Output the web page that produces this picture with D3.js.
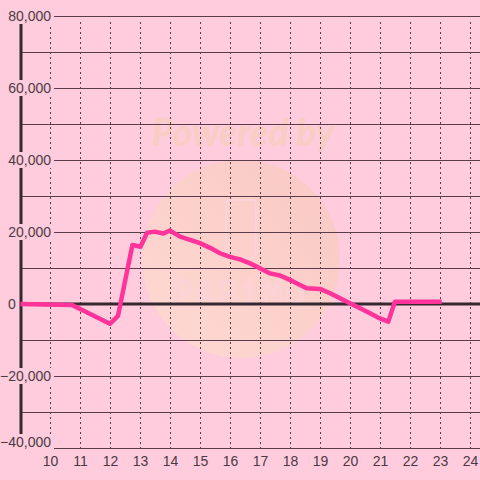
<!DOCTYPE html>
<html><head><meta charset="utf-8">
<script src="https://cdn.jsdelivr.net/npm/d3@7"></script>
<style>html,body{margin:0;padding:0;background:#ffccdd;}svg{display:block;}</style>
</head><body>
<svg id="c" width="480" height="480"></svg>
<script>
const hours = [9.0, 10.72, 11.98, 12.25, 12.73, 13.0, 13.22, 13.48, 13.76, 13.98, 14.32, 14.65, 14.98, 15.32, 15.65, 15.98, 16.32, 16.65, 16.98, 17.32, 17.65, 17.98, 18.32, 18.54, 18.98, 19.32, 19.65, 19.98, 20.32, 20.65, 20.98, 21.26, 21.48, 23.04];
const values = [0, -300, -5500, -3300, 16400, 15900, 19800, 20100, 19600, 20400, 18700, 17800, 16900, 15600, 14100, 13100, 12400, 11300, 9900, 8500, 7900, 6700, 5300, 4400, 4200, 3000, 1600, 200, -1200, -2600, -4000, -4900, 650, 650];
const xTicks = [10, 11, 12, 13, 14, 15, 16, 17, 18, 19, 20, 21, 22, 23, 24];
const yGrid = [-40000, -30000, -20000, -10000, 0, 10000, 20000, 30000, 40000, 50000, 60000, 70000, 80000];
const yLabels = [-40000, -20000, 0, 20000, 40000, 60000, 80000];

const svg = d3.select("#c");
const x = d3.scaleLinear().domain([9, 24]).range([20.5, 470.5]);
const y = d3.scaleLinear().domain([-40000, 80000]).range([448, 16]);
const dark = "#5a3c4b", ink = "#33292e", txt = "#4a3a44";
const font = "Liberation Sans, Arial, sans-serif";

svg.append("rect").attr("width", 480).attr("height", 480).attr("fill", "#ffccdd");

// watermark
const defs = svg.append("defs");
const g = defs.append("linearGradient").attr("id", "wm").attr("x1", "0").attr("y1", "1").attr("x2", "1").attr("y2", "0");
g.append("stop").attr("offset", "0").attr("stop-color", "#ffd9d3");
g.append("stop").attr("offset", "1").attr("stop-color", "#f9c8c4");
svg.append("circle").attr("cx", 241).attr("cy", 259).attr("r", 99).attr("fill", "url(#wm)");
svg.append("text").attr("x", 243).attr("y", 146).attr("text-anchor", "middle")
  .attr("font-family", "Lato, 'Open Sans', sans-serif").attr("font-weight", 900).attr("font-style", "italic")
  .attr("font-size", 37).attr("fill", "#f9ccc4").text("Powered by");
svg.append("rect").attr("x", 226).attr("y", 200).attr("width", 30).attr("height", 58).attr("rx", 4)
  .attr("fill", "none").attr("stroke", "#fcd3da").attr("stroke-width", 2);
svg.append("text").attr("x", 240).attr("y", 305).attr("text-anchor", "middle")
  .attr("font-family", "DejaVu Sans Mono, monospace").attr("font-size", 34).attr("letter-spacing", 2)
  .attr("fill", "none").attr("stroke", "#fcd3da").attr("stroke-width", 1.5).text("PAPiMO");

// horizontal grid
svg.append("g").selectAll("line").data(yGrid.filter(v => v !== 0)).join("line")
  .attr("x1", d => yLabels.includes(d) ? 54 : 21).attr("x2", 480)
  .attr("y1", d => Math.round(y(d)) + 0.5).attr("y2", d => Math.round(y(d)) + 0.5)
  .attr("stroke", dark).attr("stroke-width", 1);

// vertical dotted grid
svg.append("g").selectAll("line").data(xTicks).join("line")
  .attr("x1", d => x(d)).attr("x2", d => x(d)).attr("y1", 22).attr("y2", 448)
  .attr("stroke", dark).attr("stroke-width", 1).attr("stroke-dasharray", "2,3");

// x axis baseline
svg.append("line").attr("x1", 54).attr("x2", 480).attr("y1", 448.5).attr("y2", 448.5).attr("stroke", dark);
// zero line
svg.append("line").attr("x1", 21).attr("x2", 480).attr("y1", y(0)).attr("y2", y(0)).attr("stroke", ink).attr("stroke-width", 3);
// y axis bar
svg.append("line").attr("x1", 21).attr("x2", 21).attr("y1", 16).attr("y2", 436).attr("stroke", ink).attr("stroke-width", 3);

// y labels with background
const nonZero = yLabels.filter(d => d !== 0);
const ly = d => d === -40000 ? y(d) - 6 : y(d);
const yl = svg.append("g");
yl.selectAll("rect").data(nonZero).join("rect")
  .attr("x", 0).attr("width", 53).attr("y", d => ly(d) - 8).attr("height", 16).attr("fill", "#ffccdd");
yl.selectAll("text").data(nonZero).join("text")
  .attr("x", 51).attr("y", d => ly(d)).attr("dy", "0.36em").attr("text-anchor", "end")
  .attr("font-family", font).attr("font-size", 14).attr("fill", txt)
  .text(d => d3.format(",")(d));
yl.append("text").attr("x", 8).attr("y", y(0)).attr("dy", "0.36em").attr("text-anchor", "start")
  .attr("font-family", font).attr("font-size", 14).attr("fill", txt).text(d3.format(",")(0));

// x labels
svg.append("g").selectAll("text").data(xTicks).join("text")
  .attr("x", d => x(d)).attr("y", 466).attr("text-anchor", "middle")
  .attr("font-family", font).attr("font-size", 14).attr("fill", txt)
  .text(d => d);

// data line
const line = d3.line().x((d, i) => x(hours[i])).y(d => y(d));
svg.append("path").datum(values).attr("d", line).attr("fill", "none")
  .attr("stroke", "#ff3399").attr("stroke-width", 4.5).attr("stroke-linejoin", "round");
</script>
</body></html>
